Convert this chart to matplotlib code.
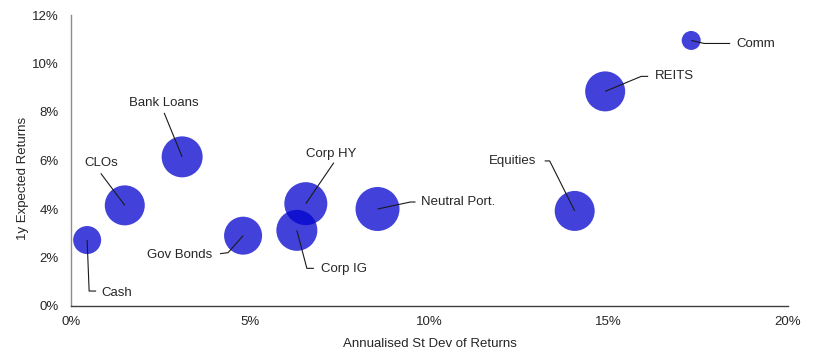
import matplotlib
matplotlib.use("Agg")
import matplotlib.pyplot as plt
import numpy as np

plt.rcParams['font.family'] = ['Liberation Sans', 'DejaVu Sans']

assets = ["Cash", "CLOs", "Bank Loans", "Gov Bonds", "Corp IG", "Corp HY",
          "Neutral Port.", "Equities", "REITS", "Comm"]
st_dev = [0.45, 1.5, 3.1, 4.8, 6.3, 6.55, 8.55, 14.05, 14.9, 17.3]
exp_ret = [2.72, 4.15, 6.15, 2.9, 3.12, 4.22, 4.0, 3.92, 8.85, 10.95]
bubble_size = [14, 20, 20.5, 19, 20.5, 21.5, 22, 20, 20, 9.5]  # relative bubble radius
x_ticks = [0, 5, 10, 15, 20]
y_ticks = [0, 2, 4, 6, 8, 10, 12]

# layout: label anchor offsets in pixels relative to bubble centre
label_layout = {
    "Cash":          dict(elbow=(2, 51), arm=(9, 51), text=(14, 53), ha='left'),
    "CLOs":          dict(elbow=(-24, -32), arm=None, text=(-24, -42), ha='center'),
    "Bank Loans":    dict(elbow=(-18, -44), arm=None, text=(-18, -54), ha='center'),
    "Gov Bonds":     dict(elbow=(-15, 17), arm=(-23, 18), text=(-31, 19), ha='right'),
    "Corp IG":       dict(elbow=(10, 38), arm=(17, 38), text=(24, 39), ha='left'),
    "Corp HY":       dict(elbow=(28, -41), arm=None, text=(25, -50), ha='center'),
    "Neutral Port.": dict(elbow=(33, -7), arm=(38, -7), text=(43, -7), ha='left'),
    "Equities":      dict(elbow=(-25, -50), arm=(-30, -50), text=(-38, -50), ha='right'),
    "REITS":         dict(elbow=(36, -15), arm=(43, -15), text=(50, -15), ha='left'),
    "Comm":          dict(elbow=(13, 3), arm=(39, 3), text=(45, 4), ha='left'),
}

W, H, DPI = 838, 358, 100
fig = plt.figure(figsize=(W / DPI, H / DPI), dpi=DPI)
ax = fig.add_axes([71 / W, 1 - 306 / H, (788 - 71) / W, (306 - 15) / H])
ax.set_xlim(0, 20)
ax.set_ylim(0, 12)

pt_per_px = 72 / DPI
sizes = [(2 * r * pt_per_px) ** 2 for r in bubble_size]
ax.scatter(st_dev, exp_ret, s=sizes, color='#0000cd', alpha=0.74,
           edgecolors='none', zorder=2)

ax.set_xticks(x_ticks)
ax.set_xticklabels([f"{t}%" for t in x_ticks])
ax.set_yticks(y_ticks)
ax.set_yticklabels([f"{t}%" for t in y_ticks])
ax.tick_params(length=0, labelsize=9.5, colors='#262626')
ax.tick_params(axis='x', pad=7)
ax.tick_params(axis='y', pad=9)
for s in ['top', 'right']:
    ax.spines[s].set_visible(False)
ax.spines['left'].set_color('#8c8c8c')
ax.spines['bottom'].set_color('#404040')
ax.spines['left'].set_linewidth(1.0)
ax.spines['bottom'].set_linewidth(1.0)

ax.set_xlabel("Annualised St Dev of Returns", fontsize=9.5, color='#262626')
ax.set_ylabel("1y Expected Returns", fontsize=9.5, color='#262626')
ax.xaxis.set_label_coords(0.5, -0.13)
ax.yaxis.set_label_coords(-0.067, 0.44)
ax.xaxis.label.set_va('center')
ax.yaxis.label.set_va('center')

fig.canvas.draw()
to_disp = ax.transData
to_data = ax.transData.inverted()
for name, x, y in zip(assets, st_dev, exp_ret):
    L = label_layout[name]
    cx, cy = to_disp.transform((x, y))
    pts = [(cx, cy), (cx + L['elbow'][0], cy - L['elbow'][1])]
    if L['arm'] is not None:
        pts.append((cx + L['arm'][0], cy - L['arm'][1]))
    dpts = to_data.transform(pts)
    ax.plot(dpts[:, 0], dpts[:, 1], color='#1a1a1a', lw=0.8, zorder=3,
            solid_capstyle='butt', clip_on=False)
    tx, ty = to_data.transform((cx + L['text'][0], cy - L['text'][1]))
    ax.text(tx, ty, name, ha=L['ha'], va='center', fontsize=9.5,
            color='#262626', zorder=4)

fig.savefig("out.png", dpi=DPI)
